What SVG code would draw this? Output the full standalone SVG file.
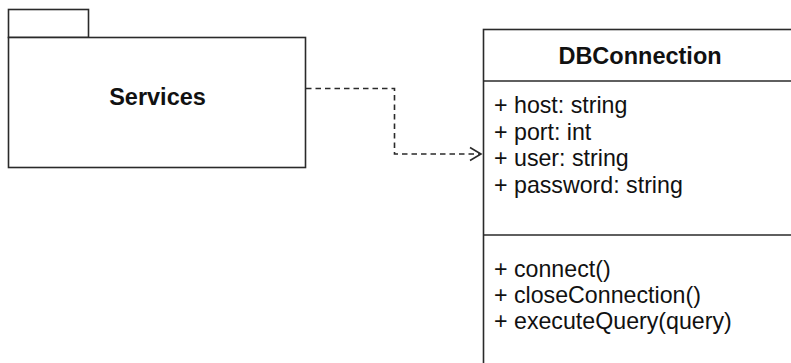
<svg xmlns="http://www.w3.org/2000/svg" width="791" height="363" viewBox="0 0 791 363">
  <style>
    .shape { fill: #ffffff; stroke: #2a2a2a; stroke-width: 1.6; }
    .line { fill: none; stroke: #2a2a2a; stroke-width: 1.6; }
    .title { font-family: "Liberation Sans", Arial, Helvetica, sans-serif; font-weight: bold; font-size: 23.5px; fill: #111111; }
    .member { font-family: "Liberation Sans", Arial, Helvetica, sans-serif; font-size: 23.2px; fill: #111111; }
    .dep { fill: none; stroke: #2a2a2a; stroke-width: 1.6; stroke-dasharray: 5.5 4; }
  </style>
  <defs>
    <marker id="openArrow" markerUnits="userSpaceOnUse" markerWidth="16" markerHeight="16" refX="14" refY="8" orient="auto">
      <path d="M3,1.5 L14,8 L3,14.5" fill="none" stroke="#2a2a2a" stroke-width="1.6"/>
    </marker>
  </defs>
  <rect width="791" height="363" fill="#ffffff"/>

  <!-- Services package -->
  <g id="services">
    <rect class="shape" x="8.5" y="9.5" width="80" height="28"/>
    <rect class="shape" x="8.5" y="37.5" width="297" height="130"/>
    <text class="title" x="157.5" y="105" text-anchor="middle">Services</text>
  </g>

  <!-- DBConnection class -->
  <g id="dbconnection">
    <rect class="shape" x="483.5" y="29.5" width="330" height="360"/>
    <line class="line" x1="483.5" y1="81" x2="813.5" y2="81"/>
    <line class="line" x1="483.5" y1="235" x2="813.5" y2="235"/>
    <text class="title" x="640" y="64" text-anchor="middle">DBConnection</text>
    <text class="member" x="494" y="113">+ host: string</text>
    <text class="member" x="494" y="139.5">+ port: int</text>
    <text class="member" x="494" y="166">+ user: string</text>
    <text class="member" x="494" y="192.5">+ password: string</text>
    <text class="member" x="494" y="277">+ connect()</text>
    <text class="member" x="494" y="303">+ closeConnection()</text>
    <text class="member" x="494" y="329">+ executeQuery(query)</text>
  </g>

  <!-- dependency -->
  <g id="connectors">
    <path class="dep" d="M306,88.5 H394.5 V154 H481" marker-end="url(#openArrow)"/>
  </g>
</svg>
